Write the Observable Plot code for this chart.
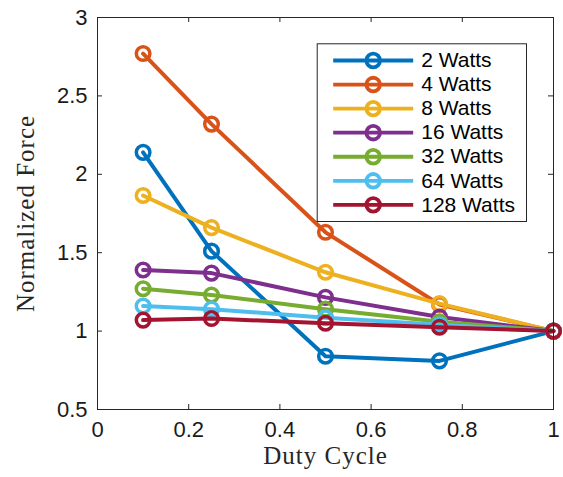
<!DOCTYPE html>
<html>
<head>
<meta charset="utf-8">
<script src="https://cdn.jsdelivr.net/npm/d3@7"></script>
<script src="https://cdn.jsdelivr.net/npm/@observablehq/plot@0.6"></script>
<style>
  html, body { margin: 0; padding: 0; background: #fff; }
  #chart svg { display: block; }
</style>
</head>
<body>
<div id="chart"></div>
<script>
// ---- data ----
const dutyCycle = [0.1, 0.25, 0.5, 0.75, 1];
const seriesNames = ["2 Watts", "4 Watts", "8 Watts", "16 Watts", "32 Watts", "64 Watts", "128 Watts"];
const w2   = [2.14, 1.51, 0.84, 0.81, 1];
const w4   = [2.77, 2.32, 1.63, 1.17, 1];
const w8   = [1.865, 1.66, 1.375, 1.175, 1];
const w16  = [1.39, 1.37, 1.215, 1.09, 1];
const w32  = [1.27, 1.23, 1.14, 1.06, 1];
const w64  = [1.16, 1.14, 1.085, 1.04, 1];
const w128 = [1.07, 1.08, 1.05, 1.025, 1];
const seriesValues = [w2, w4, w8, w16, w32, w64, w128];
const colors = ["#0072BD", "#D95319", "#EDB120", "#7E2F8E", "#77AC30", "#4DBEEE", "#A2142F"];
const xTicks = [0, 0.2, 0.4, 0.6, 0.8, 1];
const yTicks = [0.5, 1, 1.5, 2, 2.5, 3];
const xLabel = "Duty Cycle";
const yLabel = "Normalized Force";

// ---- layout ----
const W = 563, H = 477;
const mL = 97, mR = 10, mT = 17, mB = 68;
const plotW = W - mL - mR, plotH = H - mT - mB;
const axisColor = "#262626";
const sans = "'Liberation Sans', Arial, Helvetica, sans-serif";
const serif = "'Liberation Serif', 'Times New Roman', serif";
const tickLen = 5;

const marks = [];
// series: line + markers, drawn in order
seriesValues.forEach((vals, i) => {
  const rows = dutyCycle.map((x, j) => ({x, y: vals[j]}));
  marks.push(Plot.line(rows, {x: "x", y: "y", stroke: colors[i], strokeWidth: 4, strokeLinejoin: "round"}));
  marks.push(Plot.dot(rows, {x: "x", y: "y", r: 6.8, stroke: colors[i], strokeWidth: 3.5, fill: "none"}));
});

// frame and inward ticks
marks.push(Plot.frame({stroke: axisColor, strokeWidth: 1}));
marks.push(Plot.tickX(xTicks, {x: d => d, insetTop: plotH - tickLen, stroke: axisColor}));
marks.push(Plot.tickX(xTicks, {x: d => d, insetBottom: plotH - tickLen, stroke: axisColor}));
marks.push(Plot.tickY(yTicks, {y: d => d, insetLeft: plotW - tickLen, stroke: axisColor}));
marks.push(Plot.tickY(yTicks, {y: d => d, insetRight: plotW - tickLen, stroke: axisColor}));

// axis labels
marks.push(Plot.axisX({ticks: xTicks, tickSize: 0, tickPadding: 12, tickFormat: d3.format("~g"),
  fontSize: 22, fontFamily: sans, fill: "#1a1a1a", label: null}));
marks.push(Plot.axisY({ticks: yTicks, tickSize: 0, tickPadding: 10, tickFormat: d3.format("~g"),
  fontSize: 22, fontFamily: sans, fill: "#1a1a1a", label: null}));
marks.push(Plot.text([xLabel], {frameAnchor: "bottom", dy: 54, text: d => d, textAnchor: "middle",
  fontSize: 25, fontFamily: serif, fill: "#262626"}));
marks.push(Plot.text([yLabel], {frameAnchor: "left", dx: -72, rotate: -90, text: d => d, textAnchor: "middle",
  fontSize: 25, fontFamily: serif, fill: "#262626"}));

// legend
const legL = 316.7, legT = 43.3, legR = 526, legB = 221;
marks.push(Plot.frame({fill: "white", stroke: axisColor, strokeWidth: 1,
  insetLeft: legL - mL, insetTop: legT - mT, insetRight: (W - mR) - legR, insetBottom: (H - mB) - legB}));
const legendSymbol = {
  draw(ctx, size) {
    const r = Math.sqrt(size / Math.PI);
    ctx.moveTo(-40, 0); ctx.lineTo(40, 0);
    ctx.moveTo(r, 0); ctx.arc(0, 0, r, 0, 2 * Math.PI);
  }
};
seriesNames.forEach((name, i) => {
  const rowY = 60 + 24.06 * i - mT;
  marks.push(Plot.dot([name], {frameAnchor: "top-left", dx: 372.7 - mL, dy: rowY,
    symbol: legendSymbol, r: 6.8, stroke: colors[i], strokeWidth: 3.8, fill: "none"}));
  marks.push(Plot.text([name], {frameAnchor: "top-left", dx: 420.7 - mL, dy: rowY, text: d => d,
    textAnchor: "start", lineAnchor: "middle", fontSize: 21, fontFamily: sans, fill: "#000"}));
});

const chart = Plot.plot({
  width: W, height: H,
  marginLeft: mL, marginRight: mR, marginTop: mT, marginBottom: mB,
  x: {domain: [0, 1]},
  y: {domain: [0.5, 3]},
  style: {background: "white", overflow: "visible"},
  marks
});
// widen the serif axis titles slightly (Computer Modern is wider than Liberation Serif)
d3.select(chart).selectAll("text")
  .filter(function () { return this.textContent === xLabel || this.textContent === yLabel; })
  .style("letter-spacing", "1px");
document.getElementById("chart").append(chart);
</script>
</body>
</html>
